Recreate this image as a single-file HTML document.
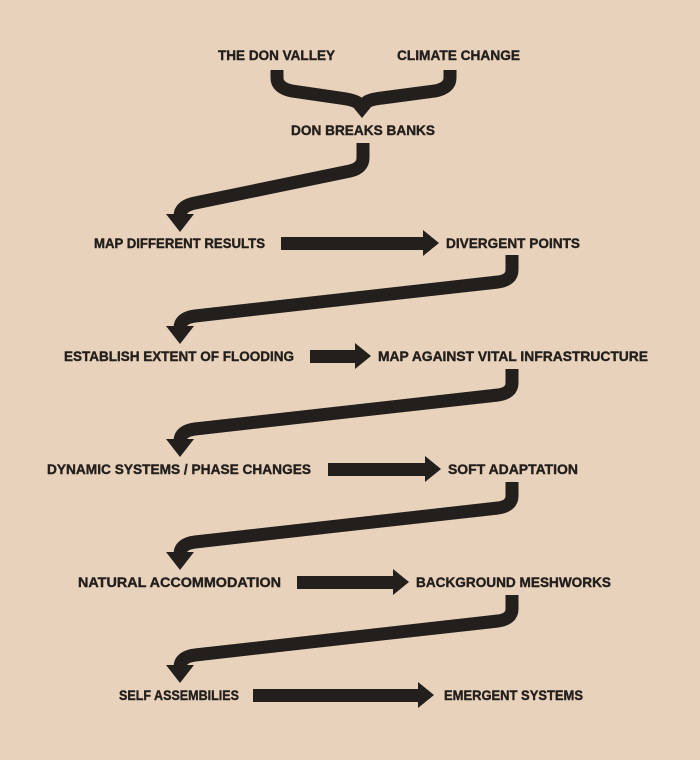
<!DOCTYPE html>
<html><head><meta charset="utf-8"><style>
html,body{margin:0;padding:0;background:#e8d2bc;}
svg{display:block}
text{font-family:"Liberation Sans",sans-serif;font-weight:bold;font-size:14px;fill:#231f1c}
</style></head><body>
<svg width="700" height="760" viewBox="0 0 700 760">
<rect width="700" height="760" fill="#e8d2bc"/>
<g fill="none" stroke="#231f1c" stroke-width="13">
<path d="M277,70 V78 Q277,88 292,91 L340,98 Q355,100 358,103"/>
<path d="M450,70 V78 Q450,88 435,91 L382,98 Q367,100 366,103"/>
<path d="M363,143 V158 Q363,168 350,171 L195,203 Q180,206 180,216"/>
<path d="M512,255 V270 Q512,280 498,282 L195,316 Q180,318 180,328"/>
<path d="M512,369 V383 Q512,393 498,395 L195,429 Q180,431 180,441"/>
<path d="M512,482 V496 Q512,506 498,508 L195,542 Q180,544 180,554"/>
<path d="M512,595 V609 Q512,619 498,621 L195,655 Q180,657 180,667"/>
</g>
<g fill="#231f1c">
<polygon points="348,101 376,101 362,118"/>
<polygon points="166,214 194,214 180,232"/>
<polygon points="166,326 194,326 180,344"/>
<polygon points="166,439 194,439 180,457"/>
<polygon points="166,552 194,552 180,570"/>
<polygon points="166,665 194,665 180,683"/>
<rect x="281" y="237" width="145" height="13"/><polygon points="423,230 423,256 439,243"/>
<rect x="310" y="350" width="48" height="13"/><polygon points="355,343 355,369 371,356"/>
<rect x="328" y="463" width="100" height="13"/><polygon points="425,456 425,482 441,469"/>
<rect x="297" y="576" width="99" height="13"/><polygon points="393,569 393,595 409,582"/>
<rect x="253" y="689" width="168" height="13"/><polygon points="418,682 418,708 434,695"/>
</g>
<g stroke="#231f1c" stroke-width="0.4">
<text x="218" y="60" textLength="117" lengthAdjust="spacingAndGlyphs">THE DON VALLEY</text>
<text x="397" y="60" textLength="123" lengthAdjust="spacingAndGlyphs">CLIMATE CHANGE</text>
<text x="291" y="135" textLength="144" lengthAdjust="spacingAndGlyphs">DON BREAKS BANKS</text>
<text x="94" y="248" textLength="171" lengthAdjust="spacingAndGlyphs">MAP DIFFERENT RESULTS</text>
<text x="446" y="248" textLength="134" lengthAdjust="spacingAndGlyphs">DIVERGENT POINTS</text>
<text x="64" y="361" textLength="230" lengthAdjust="spacingAndGlyphs">ESTABLISH EXTENT OF FLOODING</text>
<text x="378" y="361" textLength="270" lengthAdjust="spacingAndGlyphs">MAP AGAINST VITAL INFRASTRUCTURE</text>
<text x="47" y="474" textLength="264" lengthAdjust="spacingAndGlyphs">DYNAMIC SYSTEMS / PHASE CHANGES</text>
<text x="448" y="474" textLength="130" lengthAdjust="spacingAndGlyphs">SOFT ADAPTATION</text>
<text x="78" y="587" textLength="203" lengthAdjust="spacingAndGlyphs">NATURAL ACCOMMODATION</text>
<text x="416" y="587" textLength="195" lengthAdjust="spacingAndGlyphs">BACKGROUND MESHWORKS</text>
<text x="119" y="700" textLength="120" lengthAdjust="spacingAndGlyphs">SELF ASSEMBILIES</text>
<text x="444" y="700" textLength="139" lengthAdjust="spacingAndGlyphs">EMERGENT SYSTEMS</text>
</g>
</svg>
</body></html>
